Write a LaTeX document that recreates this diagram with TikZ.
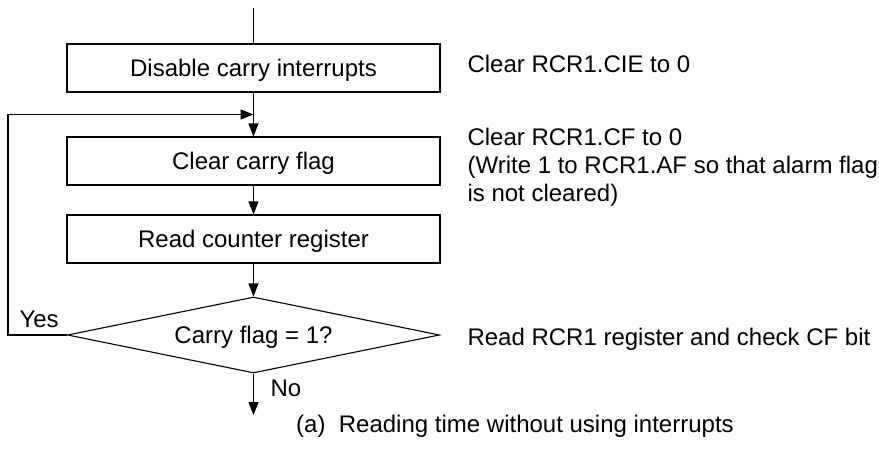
\documentclass[tikz,border=0pt]{standalone}
\usepackage{fontspec}
\setmainfont{Liberation Sans}
\usetikzlibrary{arrows.meta,shapes.geometric,calc}
\begin{document}
\begin{tikzpicture}[x=1pt,y=-1pt,
  font=\fontsize{24}{28}\selectfont,
  line width=1.1pt,
  procbox/.style={draw,rectangle,minimum width=373pt,minimum height=48pt,inner sep=0pt,text height=17pt,text depth=0pt},
  decbox/.style={draw,diamond,shape aspect=4.895,minimum width=372pt,minimum height=76pt,inner sep=0pt,text height=17pt,text depth=0pt},
  arr/.style={-{Triangle[length=13pt,width=10pt]}},
  note/.style={anchor=base west,inner sep=0pt,align=left}]
\useasboundingbox (0,0) rectangle (879,460);
\coordinate (start) at (253.5,8);
\node[procbox] (b1) at (253.5,68) {Disable carry interrupts};
\node[procbox] (b2) at (253.5,161) {Clear carry flag};
\node[procbox] (b3) at (253.5,239) {Read counter register};
\node[decbox] (dec) at (253.5,335) {Carry flag = 1?};
\coordinate (j) at ($(b1.south)!0.5!(b2.north)$);
\coordinate (lc) at (8,335);
\coordinate (endp) at (253.5,415);
\draw (start) -- (b1.north);
\draw[arr] (b1.south) -- (b2.north);
\draw[arr] (b2.south) -- (b3.north);
\draw[arr] (b3.south) -- (dec.north);
\draw[arr] (dec.south) -- (endp);
\draw[arr] (dec.west) -- (lc) |- (j);
\node[note] (yes) at (19,327) {Yes};
\node[note] (no) at (270,396) {No};
\node[note] (n1) at (467,73) {Clear RCR1.CIE to 0};
\node[anchor=north west,inner sep=0pt,align=left] (n2) at (467,128) {Clear RCR1.CF to 0\\(Write 1 to RCR1.AF so that alarm flag\\is not cleared)};
\node[note] (n3) at (467,345) {Read RCR1 register and check CF bit};
\node[anchor=base,inner sep=0pt] (cap) at (515,432) {(a)\ \ Reading time without using interrupts};
\end{tikzpicture}
\end{document}
